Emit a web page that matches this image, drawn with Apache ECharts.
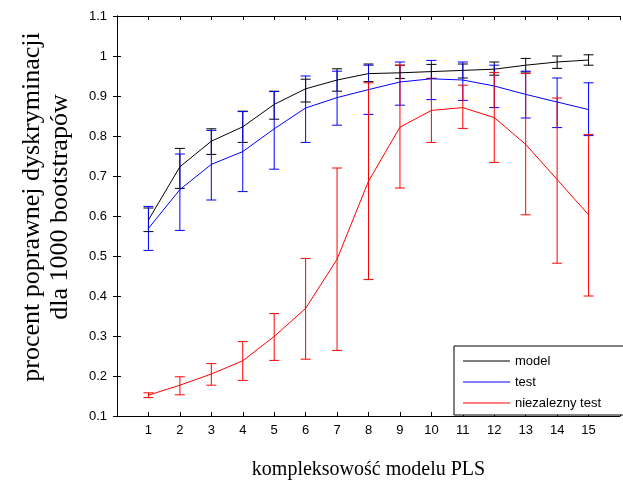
<!DOCTYPE html>
<html>
<head>
<meta charset="utf-8">
<script src="https://cdn.jsdelivr.net/npm/echarts@6/dist/echarts.min.js"></script>
<style>
html, body { margin: 0; padding: 0; background: #fff; }
#chart { width: 623px; height: 490px; }
</style>
</head>
<body>
<div id="chart"></div>
<script>
var chart = echarts.init(document.getElementById('chart'));

var categories = [1, 2, 3, 4, 5, 6, 7, 8, 9, 10, 11, 12, 13, 14, 15];
var yTicks = [0.1, 0.2, 0.3, 0.4, 0.5, 0.6, 0.7, 0.8, 0.9, 1, 1.1];

var model     = [0.590, 0.723, 0.787, 0.823, 0.879, 0.918, 0.940, 0.956, 0.958, 0.961, 0.964, 0.967, 0.977, 0.985, 0.990];
var modelLow  = [0.561, 0.669, 0.754, 0.784, 0.842, 0.885, 0.912, 0.936, 0.944, 0.944, 0.945, 0.952, 0.960, 0.969, 0.977];
var modelHigh = [0.620, 0.769, 0.818, 0.862, 0.912, 0.942, 0.968, 0.980, 0.977, 0.979, 0.980, 0.985, 0.994, 1.000, 1.003];

var test     = [0.569, 0.666, 0.729, 0.761, 0.818, 0.870, 0.896, 0.916, 0.935, 0.943, 0.940, 0.925, 0.904, 0.885, 0.866];
var testLow  = [0.514, 0.564, 0.640, 0.661, 0.717, 0.784, 0.827, 0.854, 0.877, 0.891, 0.889, 0.871, 0.845, 0.821, 0.801];
var testHigh = [0.624, 0.755, 0.814, 0.861, 0.911, 0.950, 0.962, 0.977, 0.985, 0.989, 0.985, 0.977, 0.962, 0.945, 0.933];

var indep     = [0.152, 0.177, 0.205, 0.238, 0.299, 0.369, 0.492, 0.687, 0.822, 0.864, 0.871, 0.846, 0.779, 0.691, 0.603];
var indepLow  = [0.146, 0.153, 0.177, 0.189, 0.239, 0.242, 0.264, 0.441, 0.670, 0.784, 0.819, 0.734, 0.603, 0.482, 0.400];
var indepHigh = [0.158, 0.198, 0.231, 0.286, 0.356, 0.494, 0.720, 0.933, 0.977, 0.944, 0.927, 0.959, 0.956, 0.895, 0.804];

function pairs(vals) {
  return categories.map(function (c, i) { return [c, vals[i]]; });
}
function bars(lo, hi) {
  return categories.map(function (c, i) { return [c, lo[i], hi[i]]; });
}

// vertical bar with little caps, like matlab errorbar
function errRender(color) {
  return function (params, api) {
    var x = api.value(0);
    var a = api.coord([x, api.value(1)]);
    var b = api.coord([x, api.value(2)]);
    var w = 5;
    var st = { stroke: color, lineWidth: 1 };
    return {
      type: 'group',
      children: [
        { type: 'line', shape: { x1: a[0], y1: a[1], x2: b[0], y2: b[1] }, style: st },
        { type: 'line', shape: { x1: a[0] - w, y1: a[1], x2: a[0] + w, y2: a[1] }, style: st },
        { type: 'line', shape: { x1: b[0] - w, y1: b[1], x2: b[0] + w, y2: b[1] }, style: st }
      ]
    };
  };
}

var sans = 'Liberation Sans';
var serif = 'Liberation Serif';

var option = {
  animation: false,
  grid: { left: 117, right: 1, top: 16, bottom: 74 },
  legend: {
    orient: 'vertical',
    left: 454,
    top: 346,
    data: [
      { name: 'model', icon: 'rect' },
      { name: 'test', icon: 'rect' },
      { name: 'niezalezny test', icon: 'rect' }
    ],
    itemWidth: 47,
    itemHeight: 1,
    itemGap: 7,
    padding: [8, 30, 5, 9],
    borderColor: '#000',
    borderWidth: 1,
    borderRadius: 0,
    backgroundColor: '#fff',
    textStyle: { fontFamily: sans, fontSize: 13, color: '#000', lineHeight: 14 }
  },
  xAxis: [
    {
      type: 'value',
      min: 0,
      max: 16,
      interval: 1,
      name: 'kompleksowość modelu PLS',
      nameLocation: 'middle',
      nameGap: 44,
      nameTextStyle: { fontFamily: serif, fontSize: 20, color: '#000' },
      axisLine: { lineStyle: { color: '#000', width: 1 } },
      axisTick: { inside: true, length: 4, lineStyle: { color: '#000' } },
      axisLabel: {
        fontFamily: sans, fontSize: 13, color: '#000', margin: 8,
        formatter: function (v) { return (v < 1 || v > 15) ? '' : String(v); }
      },
      splitLine: { show: false }
    },
    {
      type: 'value',
      position: 'top',
      min: 0,
      max: 16,
      interval: 1,
      axisLine: { lineStyle: { color: '#000', width: 1 } },
      axisTick: { inside: true, length: 4, lineStyle: { color: '#000' } },
      axisLabel: { show: false },
      splitLine: { show: false }
    }
  ],
  yAxis: [
    {
      type: 'value',
      min: yTicks[0],
      max: yTicks[yTicks.length - 1],
      interval: 0.1,
      name: 'procent poprawnej dyskryminacji\ndla 1000 bootstrapów',
      nameLocation: 'middle',
      nameRotate: 90,
      nameGap: 43,
      nameTextStyle: {
        fontFamily: serif, fontSize: 26, color: '#000', lineHeight: 28,
        padding: [0, 0, 0, 18]
      },
      axisLine: { lineStyle: { color: '#000', width: 1 } },
      axisTick: { inside: true, length: 4, lineStyle: { color: '#000' } },
      axisLabel: {
        fontFamily: sans, fontSize: 13, color: '#000', margin: 10,
        formatter: function (v) { return String(+v.toFixed(1)); }
      },
      splitLine: { show: false }
    },
    {
      type: 'value',
      position: 'right',
      min: yTicks[0],
      max: yTicks[yTicks.length - 1],
      interval: 0.1,
      axisLine: { lineStyle: { color: '#000', width: 1 } },
      axisTick: { inside: true, length: 4, lineStyle: { color: '#000' } },
      axisLabel: { show: false },
      splitLine: { show: false }
    }
  ],
  series: [
    {
      name: 'model', type: 'line', data: pairs(model), symbol: 'none',
      lineStyle: { color: '#000', width: 1 }, itemStyle: { color: '#000' }
    },
    {
      name: 'model-err', type: 'custom', data: bars(modelLow, modelHigh),
      renderItem: errRender('#000'), encode: { x: 0, y: [1, 2] }
    },
    {
      name: 'test', type: 'line', data: pairs(test), symbol: 'none',
      lineStyle: { color: '#0000ff', width: 1 }, itemStyle: { color: '#0000ff' }
    },
    {
      name: 'test-err', type: 'custom', data: bars(testLow, testHigh),
      renderItem: errRender('#0000ff'), encode: { x: 0, y: [1, 2] }
    },
    {
      name: 'niezalezny test', type: 'line', data: pairs(indep), symbol: 'none',
      lineStyle: { color: '#ff0000', width: 1 }, itemStyle: { color: '#ff0000' }
    },
    {
      name: 'indep-err', type: 'custom', data: bars(indepLow, indepHigh),
      renderItem: errRender('#ff0000'), encode: { x: 0, y: [1, 2] }
    }
  ]
};

chart.setOption(option);
</script>
</body>
</html>
